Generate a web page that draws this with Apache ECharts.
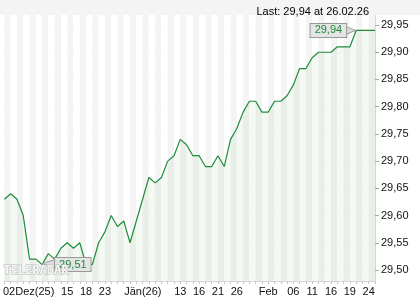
<!DOCTYPE html>
<html><head><meta charset="utf-8">
<script src="https://cdn.jsdelivr.net/npm/echarts@6/dist/echarts.min.js"></script>
<style>html,body{margin:0;padding:0;background:#fff}#c{width:420px;height:300px}</style>
</head><body><div id="c"></div>
<script>
var dates = ['2025-12-01','2025-12-02','2025-12-03','2025-12-04','2025-12-05','2025-12-08','2025-12-09','2025-12-10','2025-12-11','2025-12-12',
'2025-12-15','2025-12-16','2025-12-17','2025-12-18','2025-12-19','2025-12-22','2025-12-23','2025-12-24','2025-12-29','2025-12-30','2025-12-31',
'2026-01-02','2026-01-05','2026-01-06','2026-01-07','2026-01-08','2026-01-09','2026-01-12','2026-01-13','2026-01-14','2026-01-15','2026-01-16',
'2026-01-19','2026-01-20','2026-01-21','2026-01-22','2026-01-23','2026-01-26','2026-01-27','2026-01-28','2026-01-29','2026-01-30',
'2026-02-02','2026-02-03','2026-02-04','2026-02-05','2026-02-06','2026-02-09','2026-02-10','2026-02-11','2026-02-12','2026-02-13',
'2026-02-16','2026-02-17','2026-02-18','2026-02-19','2026-02-20','2026-02-23','2026-02-24','2026-02-25'];
var prices = [29.63,29.64,29.63,29.60,29.52,29.52,29.51,29.53,29.52,29.54,
29.55,29.54,29.55,29.51,29.51,29.55,29.57,29.60,29.58,29.59,
29.55,29.59,29.63,29.67,29.66,29.67,29.70,29.71,29.74,29.73,
29.71,29.71,29.69,29.69,29.71,29.69,29.74,29.76,29.79,29.81,
29.81,29.79,29.79,29.81,29.81,29.82,29.84,29.87,29.87,29.89,
29.90,29.90,29.90,29.91,29.91,29.91,29.94,29.94,29.94,29.94];
var xTickIndex = [1,10,13,16,21,28,31,34,37,42,46,49,52,55,58];
var xTickText = ['02Dez(25)','15','18','23','Jän(26)','13','16','21','26','Feb','06','11','16','19','24'];
var yTicks = [29.50,29.55,29.60,29.65,29.70,29.75,29.80,29.85,29.90,29.95];
var titleText = 'Last: 29,94 at 26.02.26';

var FONT = '"Liberation Sans", Arial, sans-serif';
var GREEN = '#1e8c3a';
var fmt = function(v){ return v.toFixed(2).replace('.', ','); };

var chart = echarts.init(document.getElementById('c'), null, {renderer:'canvas'});
chart.setOption({
  animation:false,
  backgroundColor:'#fff',
  textStyle:{fontFamily:FONT},
  title:{text:titleText, right:46, top:1, textStyle:{fontSize:11, fontWeight:'normal', color:'#000', fontFamily:FONT}},
  graphic:[
    {type:'rect', z:-10, shape:{x:0,y:0,width:420,height:15}, style:{fill:'#f4f4f4'}},
    {type:'text', z:100, left:3, top:264, style:{text:'TELERADAR', font:'bold 12px "DejaVu Sans Mono"', fill:'#f6f6f6', stroke:'#b4b4b4', lineWidth:1}}
  ],
  grid:{left:3, right:45, top:15, bottom:19},
  xAxis:{
    type:'category', data:dates, boundaryGap:false,
    axisLine:{show:true, lineStyle:{color:'#d8d8d8'}},
    axisTick:{show:true, interval:0, length:3, lineStyle:{color:'#c8c8c8'}},
    splitArea:{show:true, interval:0, areaStyle:{color:['#f4f4f4','#ffffff']}},
    splitLine:{show:false},
    axisLabel:{
      interval:0, margin:5, fontSize:11, color:'#111', fontFamily:FONT,
      formatter:function(v, i){
        var k = xTickIndex.indexOf(i);
        if (k < 0) return '';
        var t = xTickText[k];
        if (i === 1) return '{f|' + t + '}';
        if (t.indexOf('(') > 0) return '{m|' + t + '}';
        return t;
      },
      rich:{
        f:{fontSize:11, color:'#111', fontFamily:FONT, padding:[0,0,0,36]},
        m:{fontSize:11, color:'#111', fontFamily:FONT, padding:[0,0,0,13]}
      }
    }
  },
  yAxis:{
    type:'value', position:'right', min:29.4798, max:29.9684,
    axisLine:{show:true, lineStyle:{color:'#d8d8d8'}},
    axisTick:{show:true, length:4, customValues:yTicks, lineStyle:{color:'#aaa'}},
    axisLabel:{customValues:yTicks, margin:6, fontSize:11, color:'#111', fontFamily:FONT, formatter:function(v){return fmt(v);}},
    splitLine:{show:true, lineStyle:{color:'#e2e2e2'}}
  },
  series:[{
    type:'line', data:prices, symbol:'none', smooth:false,
    lineStyle:{color:GREEN, width:1.2},
    areaStyle:{color:'rgba(60,140,60,0.08)'},
    markPoint:{
      silent:true,
      data:[
        {type:'max', symbol:'triangle', symbolSize:[9,11], symbolRotate:-90, symbolOffset:[-6,0], z:5,
          itemStyle:{color:'#dcdcdc', borderColor:'#999', borderWidth:1}, label:{show:false}},
        {type:'max', symbol:'rect', symbolSize:0,
          label:{show:true, position:'left', distance:10, formatter:function(p){return fmt(p.value);},
            backgroundColor:'#e4e4e4', borderColor:'#999', borderWidth:1, padding:[1,4,1,4],
            color:GREEN, fontSize:11, fontFamily:FONT}},
        {type:'min', symbol:'triangle', symbolSize:[9,14], symbolRotate:90, symbolOffset:[7,-1],
          itemStyle:{color:'#dcdcdc', borderColor:'#999', borderWidth:1}, label:{show:false}},
        {type:'min', symbol:'rect', symbolSize:0,
          label:{show:true, position:'right', distance:13, formatter:function(p){return fmt(p.value);},
            backgroundColor:'#e4e4e4', borderColor:'#999', borderWidth:1, padding:[1,4,1,4],
            color:GREEN, fontSize:11, fontFamily:FONT}}
      ]
    }
  }]
});
</script></body></html>
